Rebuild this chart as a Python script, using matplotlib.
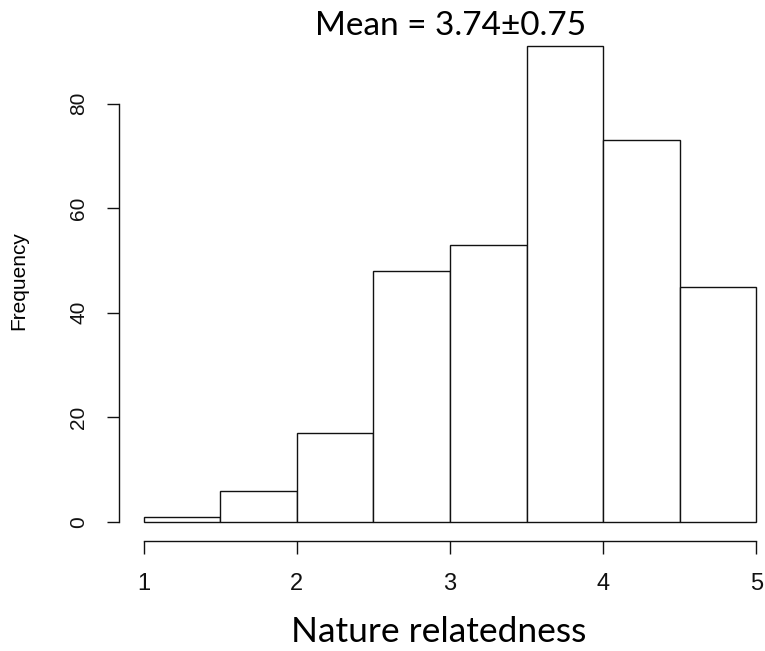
import matplotlib
matplotlib.use("Agg")
import matplotlib.pyplot as plt
import numpy as np

bin_edges = [1.0, 1.5, 2.0, 2.5, 3.0, 3.5, 4.0, 4.5, 5.0]
counts = [1, 6, 17, 48, 53, 91, 73, 45]
x_ticks = [1, 2, 3, 4, 5]
y_ticks = [0, 20, 40, 60, 80]
title = "Mean = 3.74\u00b10.75"
xlabel = "Nature relatedness"
ylabel = "Frequency"

W, H = 765, 651
fig = plt.figure(figsize=(W / 100, H / 100), dpi=100)
# R-style plot region (4% extension), partly beyond right edge
left_px, right_px, bottom_px, top_px = 119, 781, 541, 27
ax = fig.add_axes([left_px / W, 1 - bottom_px / H,
                   (right_px - left_px) / W, (bottom_px - top_px) / H])

widths = np.diff(bin_edges)
ax.bar(bin_edges[:-1], counts, width=widths, align="edge",
       facecolor="white", edgecolor="#111111", linewidth=1.0)

xr = bin_edges[-1] - bin_edges[0]
ax.set_xlim(bin_edges[0] - 0.04 * xr, bin_edges[-1] + 0.04 * xr)
ymax = max(counts)
ax.set_ylim(-0.04 * ymax, ymax * 1.04)

for s in ["top", "right"]:
    ax.spines[s].set_visible(False)
ax.spines["left"].set_bounds(y_ticks[0], y_ticks[-1])
ax.spines["bottom"].set_bounds(x_ticks[0], x_ticks[-1])
for s in ["left", "bottom"]:
    ax.spines[s].set_linewidth(1.0)
    ax.spines[s].set_color("#111111")

ax.set_xticks(x_ticks)
ax.set_yticks(y_ticks)
ax.tick_params(direction="out", length=9, width=1.0, colors="#111111")
ax.tick_params(axis="x", labelsize=17, pad=14)
ax.tick_params(axis="y", labelsize=15, pad=13)
for lab in ax.get_yticklabels():
    lab.set_rotation(90)
    lab.set_va("center")
    lab.set_family("Liberation Sans")
for lab in ax.get_xticklabels():
    lab.set_family("Liberation Sans")

fig.text(19 / W, 1 - 281 / H, ylabel, rotation=90, ha="center", va="center",
         fontsize=15, family="Liberation Sans")
fig.text(451 / W, 1 - 35 / H, title, ha="center", va="baseline",
         fontsize=24, family="Lato")
fig.text(438.5 / W, 1 - 642 / H, xlabel, ha="center", va="baseline",
         fontsize=25.5, family="Lato")

fig.savefig("out.png", dpi=100)
